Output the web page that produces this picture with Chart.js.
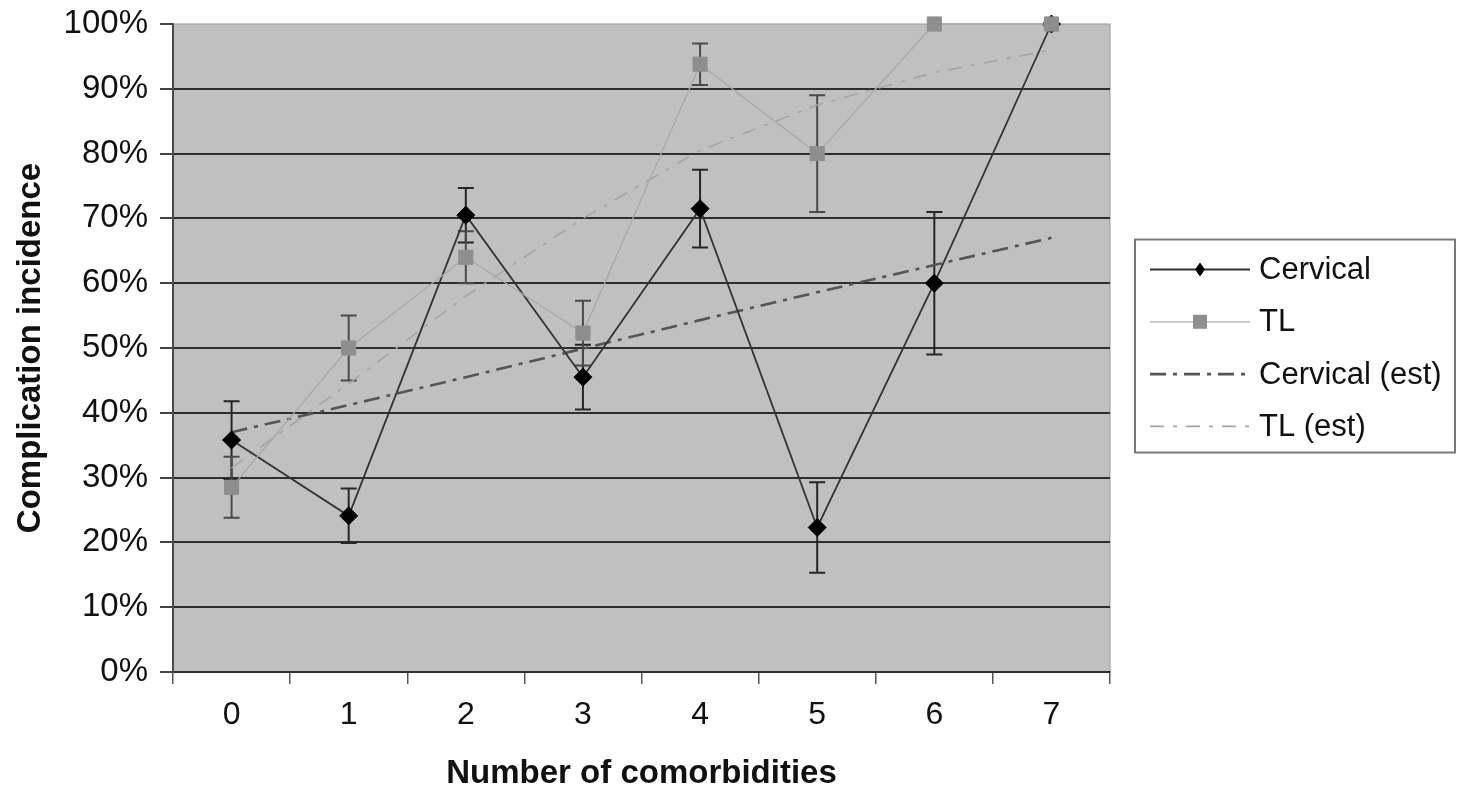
<!DOCTYPE html>
<html>
<head>
<meta charset="utf-8">
<title>Complication incidence vs comorbidities</title>
<script src="https://cdn.jsdelivr.net/npm/chart.js@4.4.1/dist/chart.umd.min.js"></script>
<style>
  html, body { margin:0; padding:0; background:#fff; }
  #wrap { width:1460px; height:794px; }
</style>
</head>
<body>
<div id="wrap"><canvas id="compChart" width="1460" height="794"></canvas></div>
<script>
// ── DATA ──────────────────────────────────────────
const categories   = ['0','1','2','3','4','5','6','7'];
const cervical     = [35.8, 24.1, 70.5, 45.5, 71.5, 22.3, 60, 100];
const cervicalErr  = [6, 4.2, 4.2, 5, 6, 7, 11, 0];
const tl           = [28.5, 50, 64, 52.3, 93.8, 80, 100, 100];
const tlErr        = [4.7, 5, 4, 5, 3.2, 9, 0, 0];
const cervicalEst  = [37, 41.2, 45.5, 49.9, 54.3, 58.6, 62.8, 67];
const tlEst        = [31.5, 44.5, 58, 70, 80.5, 87.5, 92.5, 96];
const yTicks       = [0,10,20,30,40,50,60,70,80,90,100];

const FONT = "'Liberation Sans', Arial, sans-serif";
const errBars = [cervicalErr, tlErr];
const errColors = ['#262626', '#4a4a4a'];

// ── PLUGINS ───────────────────────────────────────
const plotBg = {
  id:'plotBg',
  beforeDraw(chart) {
    const {ctx, chartArea:a} = chart;
    ctx.save();
    ctx.fillStyle = '#c0c0c0';
    ctx.fillRect(a.left, a.top, a.right - a.left, a.bottom - a.top);
    ctx.strokeStyle = '#9a9a9a';
    ctx.lineWidth = 1;
    ctx.strokeRect(a.left, a.top, a.right - a.left, a.bottom - a.top);
    ctx.restore();
  }
};

// error bars drawn under the lines, through the chart's own scales
const errorBars = {
  id:'errorBars',
  beforeDatasetsDraw(chart) {
    const {ctx, scales:{x, y}} = chart;
    ctx.save();
    errBars.forEach((errs, di) => {
      const vals = chart.data.datasets[di].data;
      ctx.strokeStyle = errColors[di];
      ctx.lineWidth = 2;
      vals.forEach((v, i) => {
        if (!errs[i]) return;
        const px = x.getPixelForValue(i);
        const top = y.getPixelForValue(v + errs[i]);
        const bot = y.getPixelForValue(v - errs[i]);
        ctx.beginPath();
        ctx.moveTo(px, top); ctx.lineTo(px, bot);
        ctx.moveTo(px - 8, top); ctx.lineTo(px + 8, top);
        ctx.moveTo(px - 8, bot); ctx.lineTo(px + 8, bot);
        ctx.stroke();
      });
    });
    ctx.restore();
  }
};

// boxed legend on the right, line sample with marker in the middle
const boxLegend = {
  id:'boxLegend',
  afterDraw(chart) {
    const {ctx, chartArea:a} = chart;
    const left = a.right + 25, width = 320, height = 213;
    const top = (a.top + a.bottom) / 2 - height / 2 - 2;
    ctx.save();
    ctx.fillStyle = '#fff';
    ctx.fillRect(left, top, width, height);
    ctx.strokeStyle = '#7a7a7a';
    ctx.lineWidth = 2;
    ctx.strokeRect(left, top, width, height);

    chart.data.datasets.forEach((ds, i) => {
      const cy = top + 30 + i * 52.3;
      const x0 = left + 15, x1 = left + 115;
      ctx.strokeStyle = ds.borderColor;
      ctx.lineWidth = ds.borderWidth;
      ctx.setLineDash(ds.borderDash || []);
      ctx.beginPath(); ctx.moveTo(x0, cy); ctx.lineTo(x1, cy); ctx.stroke();
      ctx.setLineDash([]);
      const mx = (x0 + x1) / 2;
      if (ds.pointStyle === 'rectRot') {
        ctx.fillStyle = ds.pointBackgroundColor;
        ctx.beginPath();
        ctx.moveTo(mx, cy - 7); ctx.lineTo(mx + 5, cy); ctx.lineTo(mx, cy + 7); ctx.lineTo(mx - 5, cy);
        ctx.closePath(); ctx.fill();
      } else if (ds.pointStyle === 'rect') {
        ctx.fillStyle = ds.pointBackgroundColor;
        ctx.fillRect(mx - 7, cy - 7, 14, 14);
      }
      ctx.fillStyle = '#111';
      ctx.font = `31px ${FONT}`;
      ctx.textBaseline = 'middle';
      ctx.fillText(ds.label, x1 + 9, cy + 1);
    });
    ctx.restore();
  }
};

// ── CHART ─────────────────────────────────────────
new Chart(document.getElementById('compChart'), {
  type:'line',
  data:{
    labels: categories,
    datasets:[
      {label:'Cervical', data:cervical, order:1, borderColor:'#333', borderWidth:1.8,
        pointStyle:'rectRot', pointRadius:9, pointBackgroundColor:'#000', pointBorderColor:'#000',
        pointBorderWidth:1, tension:0, clip:false},
      {label:'TL', data:tl, order:0, borderColor:'#a9a9a9', borderWidth:1.3,
        pointStyle:'rect', pointRadius:10, pointBackgroundColor:'#8e8e8e', pointBorderColor:'#8e8e8e',
        pointBorderWidth:1, tension:0, clip:false},
      {label:'Cervical (est)', data:cervicalEst, order:2, borderColor:'#555', borderWidth:2.6,
        borderDash:[16,7,4,7], pointRadius:0, tension:0},
      {label:'TL (est)', data:tlEst, order:3, borderColor:'#a4a4a4', borderWidth:1.6,
        borderDash:[14,9,4,9], pointRadius:0, tension:0}
    ]
  },
  options:{
    responsive:false, animation:false,
    layout:{padding:{top:0, right:350, bottom:0, left:0}},
    plugins:{legend:{display:false}, tooltip:{enabled:false}},
    scales:{
      x:{
        offset:true,
        grid:{offset:true, drawOnChartArea:false, drawTicks:true, tickLength:12, tickColor:'#555', lineWidth:1.5},
        border:{color:'#303030', width:2},
        ticks:{color:'#111', padding:12, font:{family:FONT, size:32}},
        title:{display:true, text:'Number of comorbidities', color:'#111',
          font:{family:FONT, size:33, weight:'bold'}, padding:{top:4, bottom:0}},
        afterFit(scale) { scale.height = 122; }
      },
      y:{
        min:0, max:100,
        afterBuildTicks(scale) { scale.ticks = yTicks.map(v => ({value:v})); },
        grid:{
          color: c => c.tick && c.tick.value === 100 ? 'rgba(0,0,0,0)' : '#2e2e2e',
          lineWidth:2, tickLength:13, tickColor:'#444'
        },
        border:{color:'#4a4a4a', width:2},
        ticks:{color:'#111', padding:12, font:{family:FONT, size:33}, callback: v => v + '%'},
        title:{display:true, text:'Complication incidence', color:'#111',
          font:{family:FONT, size:33, weight:'bold'}, padding:{top:11, bottom:0}},
        afterFit(scale) { scale.width = 173; scale.paddingTop = 24; }
      }
    }
  },
  plugins:[plotBg, errorBars, boxLegend]
});
</script>
</body>
</html>
